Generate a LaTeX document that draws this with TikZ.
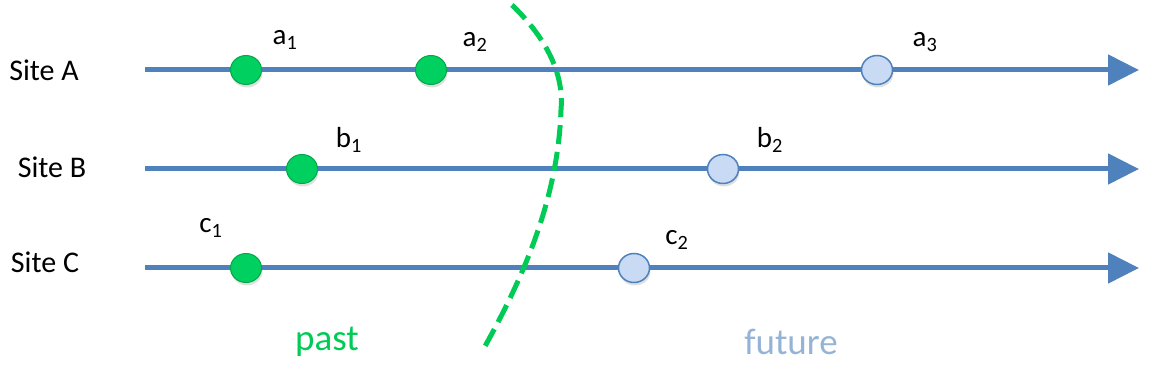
\documentclass[tikz,border=0pt]{standalone}
\usepackage{fontspec}
\setmainfont{Carlito}
\usetikzlibrary{arrows.meta,shapes.geometric,shadows}
\definecolor{lineblue}{HTML}{4F81BD}
\definecolor{ngreen}{HTML}{00D060}
\definecolor{ngreenb}{HTML}{00A84A}
\definecolor{nblue}{HTML}{C9DAF5}
\definecolor{dgreen}{HTML}{00CC55}
\definecolor{ftext}{HTML}{95B3D7}
\begin{document}
\begin{tikzpicture}[x=1pt,y=-1pt,
  timeline/.style={draw=lineblue,line width=5pt,-{Triangle[length=31pt,width=30pt]}},
  past/.style={ellipse,minimum width=31pt,minimum height=29pt,inner sep=0pt,fill=ngreen,draw=ngreenb,line width=1pt,drop shadow={opacity=0.25,shadow xshift=1pt,shadow yshift=-3pt}},
  fut/.style={ellipse,minimum width=31pt,minimum height=29pt,inner sep=0pt,fill=nblue,draw=lineblue,line width=1.5pt,drop shadow={opacity=0.25,shadow xshift=1pt,shadow yshift=-3pt}},
  site/.style={font=\fontsize{30}{33}\selectfont},
  lab/.style={font=\fontsize{29}{32}\selectfont},
  big/.style={font=\fontsize{37}{40}\selectfont}]
\useasboundingbox (0,0) rectangle (1154,371);
% site labels
\node[site] (sA) at (44,70) {Site A};
\node[site] (sB) at (52,167) {Site B};
\node[site] (sC) at (45,262) {Site C};
% timelines
\coordinate (As) at (145,70); \coordinate (Ae) at (1139,70);
\coordinate (Bs) at (145,169); \coordinate (Be) at (1139,169);
\coordinate (Cs) at (145,268); \coordinate (Ce) at (1139,268);
\draw[timeline] (As) -- (Ae);
\draw[timeline] (Bs) -- (Be);
\draw[timeline] (Cs) -- (Ce);
% events
\node[past] (a1) at (246,70) {};
\node[past] (a2) at (431,70) {};
\node[fut] (a3) at (877,70) {};
\node[past] (b1) at (302,169) {};
\node[fut] (b2) at (723,169) {};
\node[past] (c1) at (246,268) {};
\node[fut] (c2) at (634,268) {};
% labels
\node[lab] (la1) at (285,40) {a\textsubscript{1}};
\node[lab] (la2) at (475,42) {a\textsubscript{2}};
\node[lab] (la3) at (925,42) {a\textsubscript{3}};
\node[lab] (lb1) at (349,140) {b\textsubscript{1}};
\node[lab] (lb2) at (770,140) {b\textsubscript{2}};
\node[lab] (lc1) at (211,228) {c\textsubscript{1}};
\node[lab] (lc2) at (677,240) {c\textsubscript{2}};
% cut
\coordinate (t0) at (512,5);
\coordinate (t1) at (561,110);
\coordinate (t2) at (484,348);
\draw[dgreen,line width=5pt,dash pattern=on 19pt off 8pt] (t0) .. controls (548,40) and (564,75) .. (t1) .. controls (558,200) and (522,280) .. (t2);
\node[big,text=dgreen] (past) at (327,342) {past};
\node[big,text=ftext] (future) at (791,342) {future};
\end{tikzpicture}
\end{document}
